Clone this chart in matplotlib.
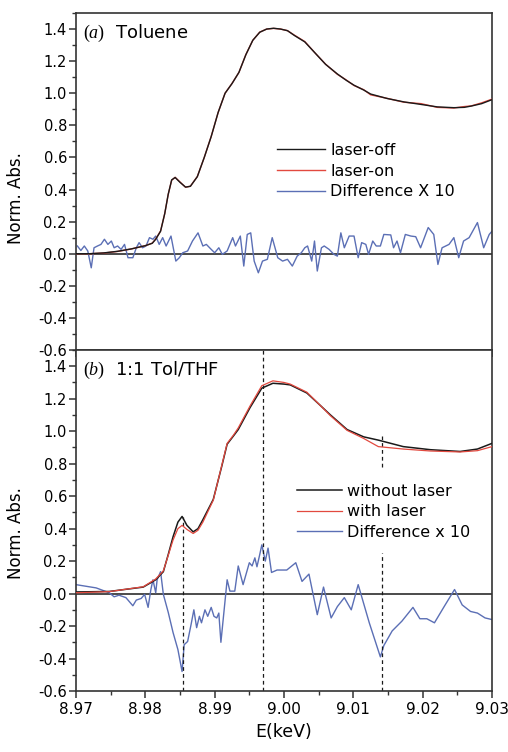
import numpy as np
import matplotlib
matplotlib.use("Agg")
import matplotlib.pyplot as plt
from matplotlib.ticker import MultipleLocator

plt.rcParams['font.family'] = ['DejaVu Sans']
plt.rcParams['mathtext.fontset'] = 'custom'
plt.rcParams['mathtext.rm'] = 'Liberation Serif'
plt.rcParams['mathtext.it'] = 'Liberation Serif:italic'

# --- panel (a) Toluene: absorbance curves
e_a = [8.970, 8.972, 8.974, 8.976, 8.978, 8.980, 8.981, 8.9815, 8.9822, 8.9828,
       8.9833, 8.9838, 8.9843, 8.9850, 8.9858, 8.9865, 8.9875, 8.9885, 8.9895,
       8.9905, 8.9915, 8.9925, 8.9935, 8.9945, 8.9955, 8.9965, 8.9975, 8.9985,
       8.9995, 9.0005, 9.0015, 9.0030, 9.0045, 9.0060, 9.0077, 9.0090, 9.0101,
       9.0115, 9.0125, 9.0149, 9.0173, 9.0198, 9.0221, 9.0245, 9.0260, 9.0270,
       9.0285, 9.0300]
laser_off = [0.0, 0.0, 0.005, 0.015, 0.03, 0.05, 0.065, 0.09, 0.14, 0.25,
             0.37, 0.46, 0.475, 0.445, 0.415, 0.42, 0.48, 0.60, 0.73,
             0.88, 1.00, 1.06, 1.13, 1.24, 1.33, 1.38, 1.40, 1.405,
             1.40, 1.39, 1.36, 1.32, 1.25, 1.18, 1.12, 1.08, 1.05,
             1.02, 0.995, 0.967, 0.946, 0.93, 0.915, 0.91, 0.912, 0.92,
             0.935, 0.96]
laser_on = [0.0, 0.0, 0.004, 0.014, 0.03, 0.05, 0.066, 0.092, 0.142, 0.25,
            0.37, 0.458, 0.476, 0.447, 0.414, 0.421, 0.481, 0.60, 0.731,
            0.88, 1.00, 1.061, 1.13, 1.241, 1.33, 1.381, 1.40, 1.404,
            1.40, 1.39, 1.362, 1.322, 1.25, 1.181, 1.118, 1.082, 1.048,
            1.022, 0.99, 0.968, 0.944, 0.935, 0.912, 0.908, 0.917, 0.921,
            0.94, 0.963]

e_diff_a = [8.9702, 8.9707, 8.9712, 8.9717, 8.9722, 8.9726, 8.9731, 8.9736, 8.9741,
            8.9746, 8.9751, 8.9755, 8.9760, 8.9765, 8.9770, 8.9775, 8.9782, 8.9787,
            8.9791, 8.9796, 8.9801, 8.9806, 8.9811, 8.9815, 8.9820, 8.9825, 8.9830,
            8.9837, 8.9844, 8.9849, 8.9854, 8.9861, 8.9868, 8.9876, 8.9883, 8.9888,
            8.9895, 8.9900, 8.9906, 8.9911, 8.9918, 8.9926, 8.9930, 8.9937, 8.9942,
            8.9947, 8.9952, 8.9957, 8.9963, 8.9969, 8.9976, 8.9983, 8.9991, 8.9998,
            9.0005, 9.0012, 9.0019, 9.0025, 9.0030, 9.0034, 9.0040, 9.0044, 9.0048,
            9.0054, 9.0058, 9.0065, 9.0072, 9.0077, 9.0082, 9.0087, 9.0094, 9.0101,
            9.0107, 9.0112, 9.0118, 9.0122, 9.0128, 9.0133, 9.0139, 9.0144, 9.0154,
            9.0158, 9.0163, 9.0168, 9.0175, 9.0183, 9.0190, 9.0197, 9.0208, 9.0216,
            9.0222, 9.0228, 9.0238, 9.0245, 9.0252, 9.0259, 9.0267, 9.0279, 9.0288,
            9.0296, 9.0300]
diff_a = [0.048, 0.02, 0.048, 0.017, -0.088, 0.037, 0.048, 0.058, 0.09,
          0.058, 0.079, 0.037, 0.048, 0.027, 0.058, -0.025, -0.025, 0.037,
          0.069, 0.037, 0.048, 0.10, 0.09, 0.11, 0.058, 0.10, 0.048,
          0.11, -0.046, -0.025, 0.006, 0.017, 0.079, 0.13, 0.048, 0.058,
          0.027, 0.006, 0.037, -0.004, 0.017, 0.10, 0.048, 0.11, -0.077,
          0.12, 0.13, -0.046, -0.119, -0.046, -0.035, 0.10, -0.025, -0.046,
          -0.035, -0.077, -0.015, 0.006, 0.037, 0.048, -0.046, 0.079, -0.108,
          0.037, 0.048, 0.027, -0.004, -0.015, 0.13, 0.037, 0.11, 0.11,
          -0.025, 0.069, 0.058, -0.004, 0.079, 0.048, 0.048, 0.12, 0.117,
          0.037, 0.079, 0.006, 0.12, 0.11, 0.106, 0.037, 0.163, 0.12,
          -0.067, 0.037, 0.058, 0.10, -0.025, 0.079, 0.10, 0.194, 0.037,
          0.12, 0.14]

# --- panel (b) 1:1 Tol/THF
e_b = [8.970, 8.9748, 8.9797, 8.9815, 8.9826, 8.9833, 8.9840, 8.9847, 8.9853,
       8.9860, 8.9869, 8.9876, 8.9883, 8.9898, 8.9910, 8.9918, 8.9927, 8.9934,
       8.9951, 8.9968, 8.9984, 9.0000, 9.0009, 9.0033, 9.0052, 9.0067, 9.0091,
       9.0115, 9.0136, 9.0172, 9.0211, 9.0254, 9.0279, 9.0300]
no_laser = [0.01, 0.013, 0.04, 0.085, 0.135, 0.24, 0.35, 0.44, 0.475,
            0.42, 0.38, 0.40, 0.455, 0.58, 0.78, 0.92, 0.97, 1.01,
            1.145, 1.265, 1.295, 1.29, 1.285, 1.235, 1.16, 1.10, 1.01,
            0.965, 0.945, 0.905, 0.886, 0.875, 0.89, 0.925]
with_laser = [0.005, 0.012, 0.042, 0.09, 0.14, 0.235, 0.33, 0.40, 0.42,
              0.395, 0.37, 0.39, 0.44, 0.575, 0.785, 0.925, 0.975, 1.02,
              1.155, 1.28, 1.31, 1.30, 1.29, 1.24, 1.16, 1.095, 1.005,
              0.955, 0.905, 0.89, 0.878, 0.872, 0.88, 0.905]

e_diff_b = [8.9700, 8.9729, 8.9748, 8.9755, 8.9762, 8.9772, 8.9782, 8.9787, 8.9794,
            8.9799, 8.9804, 8.9808, 8.9811, 8.9815, 8.9817, 8.9819, 8.9822, 8.9826,
            8.9833, 8.9840, 8.9847, 8.9853, 8.9856, 8.9861, 8.9866, 8.9870, 8.9874,
            8.9878, 8.9881, 8.9886, 8.9890, 8.9895, 8.9899, 8.9903, 8.9906, 8.9909,
            8.9918, 8.9922, 8.9929, 8.9934, 8.9941, 8.9950, 8.9954, 8.9958, 8.9961,
            8.9965, 8.9968, 8.9973, 8.9977, 8.9982, 8.9990, 9.0004, 9.0017, 9.0026,
            9.0036, 9.0048, 9.0057, 9.0068, 9.0077, 9.0087, 9.0097, 9.0107, 9.0123,
            9.0139, 9.0144, 9.0156, 9.0170, 9.0186, 9.0196, 9.0206, 9.0217, 9.0231,
            9.0246, 9.0257, 9.0269, 9.0279, 9.0290, 9.0300]
diff_b = [0.055, 0.035, 0.005, -0.02, -0.01, -0.025, -0.075, -0.04, -0.03,
          -0.005, -0.085, 0.025, 0.085, 0.005, 0.085, 0.105, 0.135, -0.005,
          -0.115, -0.24, -0.345, -0.48, -0.315, -0.295, -0.19, -0.10, -0.21,
          -0.14, -0.18, -0.10, -0.14, -0.085, -0.14, -0.15, -0.12, -0.30,
          0.085, 0.015, 0.015, 0.17, 0.055, 0.19, 0.17, 0.22, 0.165,
          0.24, 0.30, 0.20, 0.28, 0.13, 0.145, 0.145, 0.19, 0.075,
          0.12, -0.13, 0.04, -0.15, -0.08, -0.025, -0.10, 0.055, -0.18,
          -0.39, -0.32, -0.23, -0.17, -0.085, -0.155, -0.155, -0.18, -0.08,
          0.025, -0.07, -0.11, -0.12, -0.15, -0.16]

# dashed markers in panel (b): x, bottom, top (two segments for the last one)
mark_x = [8.9855, 8.9969, 9.0142, 9.0142]
mark_lo = [-0.6, -0.6, -0.6, 0.78]
mark_hi = [0.47, 1.5, 0.25, 0.97]

col_black = '#1a1a1a'
col_red = '#e2493f'
col_blue = '#5b6fb5'

fig = plt.figure(figsize=(5.08, 7.52), dpi=100)
ax1 = fig.add_axes([0.1496, 0.5346, 0.8189, 0.4481])
ax2 = fig.add_axes([0.1496, 0.0811, 0.8189, 0.4535])

for ax in (ax1, ax2):
    ax.set_xlim(8.97, 9.03)
    ax.set_ylim(-0.6, 1.5)
    ax.axhline(0, color=col_black, lw=1.1, zorder=1)
    ax.xaxis.set_major_locator(MultipleLocator(0.01))
    ax.xaxis.set_minor_locator(MultipleLocator(0.005))
    ax.yaxis.set_minor_locator(MultipleLocator(0.1))
    ax.set_yticks(np.arange(-0.6, 1.41, 0.2))
    ax.set_yticklabels(['%.1f' % v for v in np.arange(-0.6, 1.41, 0.2)])
    ax.tick_params(which='major', direction='out', length=5, width=1.1,
                   labelsize=10.5, pad=1.5, color='#333333')
    ax.tick_params(which='minor', direction='out', length=3, width=1.0,
                   color='#333333')
    for s in ax.spines.values():
        s.set_linewidth(1.2)
        s.set_color('#333333')
    ax.set_ylabel('Norm. Abs.', fontsize=12)

ax1.yaxis.set_label_coords(-0.122, 0.451)
ax2.yaxis.set_label_coords(-0.122, 0.463)
ax1.tick_params(axis='x', labelbottom=False)
ax2.tick_params(axis='x', labelsize=11, pad=3)

ax1.plot(e_a, laser_on, color=col_red, lw=1.0, label='laser-on', zorder=3)
ax1.plot(e_a, laser_off, color=col_black, lw=1.0, label='laser-off', zorder=4)
ax1.plot(e_diff_a, diff_a, color=col_blue, lw=1.0, label='Difference X 10', zorder=2)
h, l = ax1.get_legend_handles_labels()
order = [1, 0, 2]

ax2.plot(e_b, no_laser, color=col_black, lw=1.1, label='without laser', zorder=3)
ax2.plot(e_b, with_laser, color=col_red, lw=0.9, label='with laser', zorder=3)
ax2.plot(e_diff_b, diff_b, color=col_blue, lw=1.0, label='Difference x 10', zorder=2)
ax2.vlines(mark_x, mark_lo, mark_hi, colors=col_black, linestyles=(0, (3, 2.5)),
           lw=0.9, zorder=2)

leg_kw = dict(frameon=False, fontsize=11.5, loc='center left', borderpad=0,
              borderaxespad=0, handletextpad=0.35, labelspacing=0.35)
ax1.legend([h[i] for i in order], [l[i] for i in order],
           bbox_to_anchor=(0.483, 0.531), handlelength=3.0, **leg_kw)
ax2.legend(bbox_to_anchor=(0.531, 0.525), handlelength=2.8, **leg_kw)

ax1.text(0.018, 0.94, r'$\mathrm{(}\mathit{a}\mathrm{)}$  Toluene', transform=ax1.transAxes,
         fontsize=13, va='center', ha='left')
ax2.text(0.018, 0.94, r'$\mathrm{(}\mathit{b}\mathrm{)}$  1:1 Tol/THF', transform=ax2.transAxes,
         fontsize=13, va='center', ha='left')

ax2.set_xlabel('E(keV)', fontsize=12.5, labelpad=4)

fig.savefig('out.png', dpi=100)
